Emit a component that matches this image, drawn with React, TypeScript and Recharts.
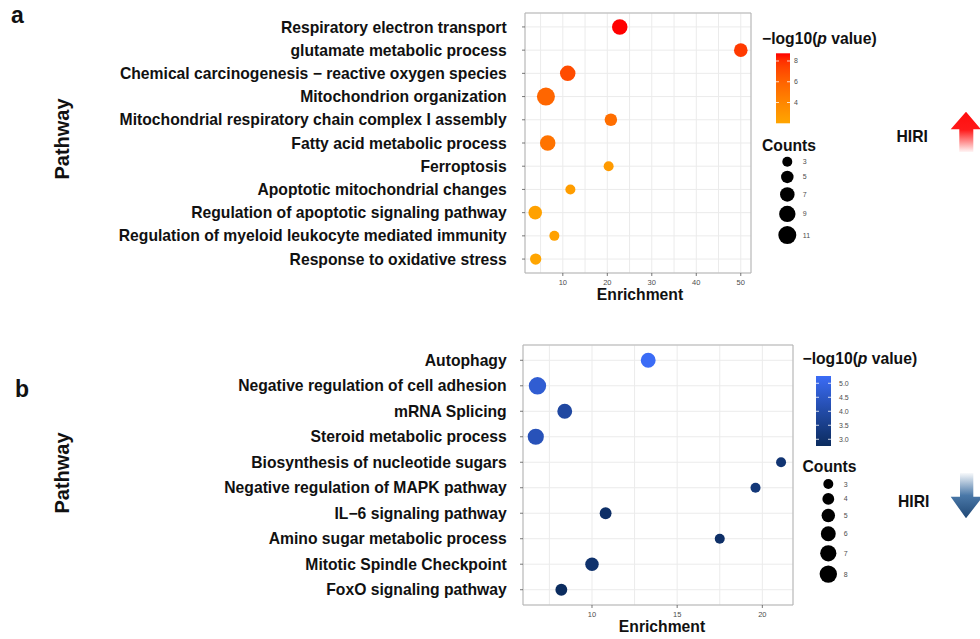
import React from 'react';
import {
  ScatterChart,
  Scatter,
  XAxis,
  YAxis,
  ZAxis,
  CartesianGrid,
  Cell,
  ReferenceArea,
} from 'recharts';

const FONT = '"Liberation Sans", Arial, Helvetica, sans-serif';

// panel a: pathways up in HIRI
const upPathways = [
  'Respiratory electron transport',
  'glutamate metabolic process',
  'Chemical carcinogenesis \u2212 reactive oxygen species',
  'Mitochondrion organization',
  'Mitochondrial respiratory chain complex I assembly',
  'Fatty acid metabolic process',
  'Ferroptosis',
  'Apoptotic mitochondrial changes',
  'Regulation of apoptotic signaling pathway',
  'Regulation of myeloid leukocyte mediated immunity',
  'Response to oxidative stress',
];
const upEnrichment = [22.8, 50.0, 11.1, 6.2, 20.8, 6.6, 20.3, 11.7, 3.8, 8.1, 3.9];
const upLogP = [8.74, 7.7, 7.05, 5.8, 5.4, 5.1, 2.7, 2.5, 2.3, 2.3, 2.0];
const upCounts = [8, 6, 8, 11, 5, 8, 3, 3, 6, 3, 4];
const upXTicks = [5, 10, 15, 20, 25, 30, 35, 40, 45, 50];
const upXLabels = [10, 20, 30, 40, 50];
const upColorTicks = [4, 6, 8];
const upCountKeys = [3, 5, 7, 9, 11];

// panel b: pathways down in HIRI
const downPathways = [
  'Autophagy',
  'Negative regulation of cell adhesion',
  'mRNA Splicing',
  'Steroid metabolic process',
  'Biosynthesis of nucleotide sugars',
  'Negative regulation of MAPK pathway',
  'IL\u22126 signaling pathway',
  'Amino sugar metabolic process',
  'Mitotic Spindle Checkpoint',
  'FoxO signaling pathway',
];
const downEnrichment = [13.3, 6.8, 8.4, 6.7, 21.1, 19.6, 10.8, 17.5, 10.0, 8.2];
const downLogP = [5.26, 4.7, 3.9, 4.3, 3.1, 3.2, 2.9, 2.9, 3.0, 2.76];
const downCounts = [6, 8, 6, 7, 3, 3, 4, 3, 5, 4];
const downXTicks = [7.5, 10, 12.5, 15, 17.5, 20];
const downXLabels = [10, 15, 20];
const downColorTicks = [3.0, 3.5, 4.0, 4.5, 5.0];
const downCountKeys = [3, 4, 5, 6, 7, 8];

// colour gradient interpolated in Lab space, like ggplot's scale_colour_gradient
const toLin = (c: number) => {
  const v = c / 255;
  return v <= 0.04045 ? v / 12.92 : Math.pow((v + 0.055) / 1.055, 2.4);
};
const toByte = (c: number) => {
  const v = c <= 0.0031308 ? 12.92 * c : 1.055 * Math.pow(c, 1 / 2.4) - 0.055;
  return Math.round(Math.max(0, Math.min(1, v)) * 255);
};
const fLab = (t: number) => (t > 0.008856 ? Math.cbrt(t) : 7.787 * t + 16 / 116);
const fInv = (t: number) => (t * t * t > 0.008856 ? t * t * t : (t - 16 / 116) / 7.787);
const hexToLab = (hex: string) => {
  const [r, g, b] = [1, 3, 5].map((i) => toLin(parseInt(hex.slice(i, i + 2), 16)));
  const X = (0.4124 * r + 0.3576 * g + 0.1805 * b) / 0.95047;
  const Y = 0.2126 * r + 0.7152 * g + 0.0722 * b;
  const Z = (0.0193 * r + 0.1192 * g + 0.9505 * b) / 1.08883;
  const fy = fLab(Y);
  return [116 * fy - 16, 500 * (fLab(X) - fy), 200 * (fy - fLab(Z))];
};
const labToRgb = ([L, A, B]: number[]) => {
  const fy = (L + 16) / 116;
  const X = fInv(fy + A / 500) * 0.95047;
  const Y = fInv(fy);
  const Z = fInv(fy - B / 200) * 1.08883;
  const r = 3.2406 * X - 1.5372 * Y - 0.4986 * Z;
  const g = -0.9689 * X + 1.8758 * Y + 0.0415 * Z;
  const b = 0.0557 * X - 0.204 * Y + 1.057 * Z;
  return `rgb(${toByte(r)},${toByte(g)},${toByte(b)})`;
};
const mix = (lo: string, hi: string, t: number) => {
  const a = hexToLab(lo);
  const b = hexToLab(hi);
  const k = Math.max(0, Math.min(1, t));
  return labToRgb(a.map((v, i) => v + (b[i] - v) * k));
};

type PanelCfg = {
  names: string[];
  enrichment: number[];
  logp: number[];
  counts: number[];
  xDomain: [number, number];
  xTicks: number[];
  xLabels: number[];
  pDomain: [number, number];
  low: string;
  high: string;
  countDomain: [number, number];
  areaRange: [number, number];
  width: number;
  height: number;
  top: number;
  right: number;
  yWidth: number;
  xHeight: number;
  tickMargin: number;
  labelOffset: number;
  labelDx: number;
  pathwayY: number;
};

const upCfg: PanelCfg = {
  names: upPathways,
  enrichment: upEnrichment,
  logp: upLogP,
  counts: upCounts,
  xDomain: [1.5, 52.3],
  xTicks: upXTicks,
  xLabels: upXLabels,
  pDomain: [2.0, 8.74],
  low: '#ffa500',
  high: '#ff0000',
  countDomain: [3, 11],
  areaRange: [Math.PI * 25, Math.PI * 81],
  width: 760,
  height: 310,
  top: 13,
  right: 9,
  yWidth: 525,
  xHeight: 37,
  tickMargin: 15.3,
  labelOffset: 10,
  labelDx: 2,
  pathwayY: 139,
};

const downCfg: PanelCfg = {
  names: downPathways,
  enrichment: downEnrichment,
  logp: downLogP,
  counts: downCounts,
  xDomain: [5.95, 21.8],
  xTicks: downXTicks,
  xLabels: downXLabels,
  pDomain: [2.76, 5.26],
  low: '#0b2c5f',
  high: '#3b6cf6',
  countDomain: [3, 8],
  areaRange: [Math.PI * 25, Math.PI * 75.7],
  width: 800,
  height: 309,
  top: 15,
  right: 7,
  yWidth: 523,
  xHeight: 34,
  tickMargin: 13.3,
  labelOffset: 7,
  labelDx: 4,
  pathwayY: 143,
};

const radiusOf = (cfg: PanelCfg, c: number) => {
  const [d0, d1] = cfg.countDomain;
  const [a0, a1] = cfg.areaRange;
  return Math.sqrt((a0 + ((c - d0) / (d1 - d0)) * (a1 - a0)) / Math.PI);
};

const colorOf = (cfg: PanelCfg, v: number) =>
  mix(cfg.low, cfg.high, (v - cfg.pDomain[0]) / (cfg.pDomain[1] - cfg.pDomain[0]));

const DotPanel = ({ cfg }: { cfg: PanelCfg }) => {
  const rows = cfg.names.map((name, i) => ({
    idx: i,
    name,
    enrichment: cfg.enrichment[i],
    logp: cfg.logp[i],
    count: cfg.counts[i],
  }));
  const n = rows.length;
  const plotBottom = cfg.height - cfg.xHeight;

  const XTick = (props: any) => {
    const { x, payload } = props;
    if (!cfg.xLabels.includes(payload.value)) return <g />;
    return (
      <g>
        <line x1={x} x2={x} y1={plotBottom} y2={plotBottom + 3} stroke="#555" strokeWidth={0.8} />
        <text
          x={x}
          y={plotBottom + 9}
          textAnchor="middle"
          dominantBaseline="central"
          fontSize={7.5}
          fontFamily={FONT}
          fill="#4d4d4d"
        >
          {payload.value}
        </text>
      </g>
    );
  };

  return (
    <ScatterChart
      width={cfg.width}
      height={cfg.height}
      margin={{ top: cfg.top, right: cfg.right, bottom: 0, left: 0 }}
    >
      <CartesianGrid stroke="#ebebeb" strokeWidth={1} />
      <XAxis
        type="number"
        dataKey="enrichment"
        domain={cfg.xDomain}
        ticks={cfg.xTicks}
        interval={0}
        allowDataOverflow
        height={cfg.xHeight}
        axisLine={false}
        tickLine={false}
        tick={<XTick />}
        label={{
          value: 'Enrichment',
          position: 'insideBottom',
          offset: cfg.labelOffset,
          dx: cfg.labelDx,
          fontSize: 15.7,
          fontWeight: 700,
          fontFamily: FONT,
          fill: '#111',
        }}
      />
      <YAxis
        type="number"
        dataKey="idx"
        domain={[-0.6, n - 0.4]}
        reversed
        ticks={rows.map((r) => r.idx)}
        interval={0}
        allowDataOverflow
        width={cfg.yWidth}
        axisLine={false}
        tickSize={3}
        tickMargin={cfg.tickMargin}
        tickLine={{ stroke: '#555', strokeWidth: 0.8 }}
        tickFormatter={(v: number) => cfg.names[v] ?? ''}
        tick={{ fontSize: 15.7, fontWeight: 700, fontFamily: FONT, fill: '#111' }}
        label={{
          content: () => (
            <text
              x={62}
              y={cfg.pathwayY}
              transform={`rotate(-90 62 ${cfg.pathwayY})`}
              textAnchor="middle"
              dominantBaseline="central"
              fontSize={20}
              fontWeight={700}
              fontFamily={FONT}
              fill="#111"
            >
              Pathway
            </text>
          ),
        }}
      />
      <ZAxis type="number" dataKey="count" domain={cfg.countDomain} range={cfg.areaRange} />
      <ReferenceArea
        x1={cfg.xDomain[0]}
        x2={cfg.xDomain[1]}
        y1={-0.6}
        y2={n - 0.4}
        fill="none"
        stroke="#b3b3b3"
        strokeWidth={1}
        ifOverflow="visible"
      />
      <Scatter data={rows} isAnimationActive={false}>
        {rows.map((r) => (
          <Cell key={r.name} fill={colorOf(cfg, r.logp)} />
        ))}
      </Scatter>
    </ScatterChart>
  );
};

const textStyle = { fontFamily: FONT, fill: '#111' };

const Legend = ({
  cfg,
  id,
  titleX,
  titleY,
  bar,
  tickX,
  ticks,
  digits,
  countsY,
  dotX,
  firstDotY,
  keys,
}: {
  cfg: PanelCfg;
  id: string;
  titleX: number;
  titleY: number;
  bar: { x: number; y: number; w: number; h: number };
  tickX: number;
  ticks: number[];
  digits: number;
  countsY: number;
  dotX: number;
  firstDotY: number;
  keys: number[];
}) => {
  const [p0, p1] = cfg.pDomain;
  const yOf = (v: number) => bar.y + bar.h - ((v - p0) / (p1 - p0)) * bar.h;
  const stops = [0, 0.1, 0.2, 0.3, 0.4, 0.5, 0.6, 0.7, 0.8, 0.9, 1];
  const dots: { c: number; y: number; r: number }[] = [];
  let y = firstDotY;
  keys.forEach((c, i) => {
    const r = radiusOf(cfg, c);
    if (i > 0) y += dots[i - 1].r + r + 4;
    dots.push({ c, y, r });
  });
  return (
    <g>
      <defs>
        <linearGradient id={id} x1="0" y1="1" x2="0" y2="0">
          {stops.map((s) => (
            <stop key={s} offset={s} stopColor={mix(cfg.low, cfg.high, s)} />
          ))}
        </linearGradient>
      </defs>
      <text x={titleX} y={titleY} fontSize={15.7} fontWeight={700} {...textStyle}>
        <tspan>{'\u2212log10('}</tspan>
        <tspan fontStyle="italic">p</tspan>
        <tspan>{' value)'}</tspan>
      </text>
      <rect x={bar.x} y={bar.y} width={bar.w} height={bar.h} fill={`url(#${id})`} />
      {ticks.map((t) => (
        <g key={t}>
          <line x1={bar.x} x2={bar.x + 3} y1={yOf(t)} y2={yOf(t)} stroke="#fff" strokeWidth={0.8} />
          <line x1={bar.x + bar.w - 3} x2={bar.x + bar.w} y1={yOf(t)} y2={yOf(t)} stroke="#fff" strokeWidth={0.8} />
          <text
            x={tickX}
            y={yOf(t)}
            dominantBaseline="central"
            fontSize={7}
            fontFamily={FONT}
            fill="#4d4d4d"
          >
            {t.toFixed(digits)}
          </text>
        </g>
      ))}
      <text x={titleX} y={countsY} fontSize={15.7} fontWeight={700} {...textStyle}>
        Counts
      </text>
      {dots.map((d) => (
        <g key={d.c}>
          <circle cx={dotX} cy={d.y} r={d.r} fill="#000" />
          <text
            x={dotX + 15.5}
            y={d.y}
            dominantBaseline="central"
            fontSize={7}
            fontFamily={FONT}
            fill="#4d4d4d"
          >
            {d.c}
          </text>
        </g>
      ))}
    </g>
  );
};

const Overlay = () => (
  <svg width={980} height={639} style={{ position: 'absolute', left: 0, top: 0, pointerEvents: 'none' }}>
    <defs>
      <linearGradient id="upArrow" gradientUnits="userSpaceOnUse" x1="0" y1="111" x2="0" y2="153">
        <stop offset="0" stopColor="#ff0d0d" />
        <stop offset="0.45" stopColor="#ff1a1a" />
        <stop offset="1" stopColor="#ffffff" />
      </linearGradient>
      <linearGradient id="downArrow" gradientUnits="userSpaceOnUse" x1="0" y1="472" x2="0" y2="519">
        <stop offset="0" stopColor="#ffffff" />
        <stop offset="0.5" stopColor="#4a78a8" />
        <stop offset="1" stopColor="#1e4673" />
      </linearGradient>
    </defs>
    <text x={11} y={22.5} fontSize={23} fontWeight={700} {...textStyle}>
      a
    </text>
    <text x={15} y={397} fontSize={23} fontWeight={700} {...textStyle}>
      b
    </text>

    <Legend
      cfg={upCfg}
      id="upBar"
      titleX={762}
      titleY={44}
      bar={{ x: 776, y: 53.3, w: 14, h: 70 }}
      tickX={794}
      ticks={upColorTicks}
      digits={0}
      countsY={150.5}
      dotX={787.3}
      firstDotY={161.7}
      keys={upCountKeys}
    />
    <Legend
      cfg={downCfg}
      id="downBar"
      titleX={802.5}
      titleY={363.5}
      bar={{ x: 816, y: 376, w: 15, h: 70 }}
      tickX={839}
      ticks={downColorTicks}
      digits={1}
      countsY={471.5}
      dotX={828.3}
      firstDotY={484}
      keys={downCountKeys}
    />

    <text x={896.5} y={142} fontSize={15.7} fontWeight={700} {...textStyle}>
      HIRI
    </text>
    <polygon
      points="966,111.7 981,129.3 973.3,129.3 973.3,152 959.3,152 959.3,129.3 950.7,129.3"
      fill="url(#upArrow)"
    />
    <text x={898} y={507} fontSize={15.7} fontWeight={700} {...textStyle}>
      HIRI
    </text>
    <polygon
      points="960,473 973.3,473 973.3,496.7 982.7,496.7 966,518.3 950.7,496.7 960,496.7"
      fill="url(#downArrow)"
    />
  </svg>
);

const App = () => (
  <div
    style={{
      position: 'absolute',
      left: 0,
      top: 0,
      width: 980,
      height: 639,
      background: '#fff',
      overflow: 'hidden',
      fontFamily: FONT,
    }}
  >
    <div style={{ position: 'absolute', left: 0, top: 0 }}>
      <DotPanel cfg={upCfg} />
    </div>
    <div style={{ position: 'absolute', left: 0, top: 330 }}>
      <DotPanel cfg={downCfg} />
    </div>
    <Overlay />
  </div>
);

export default App;
